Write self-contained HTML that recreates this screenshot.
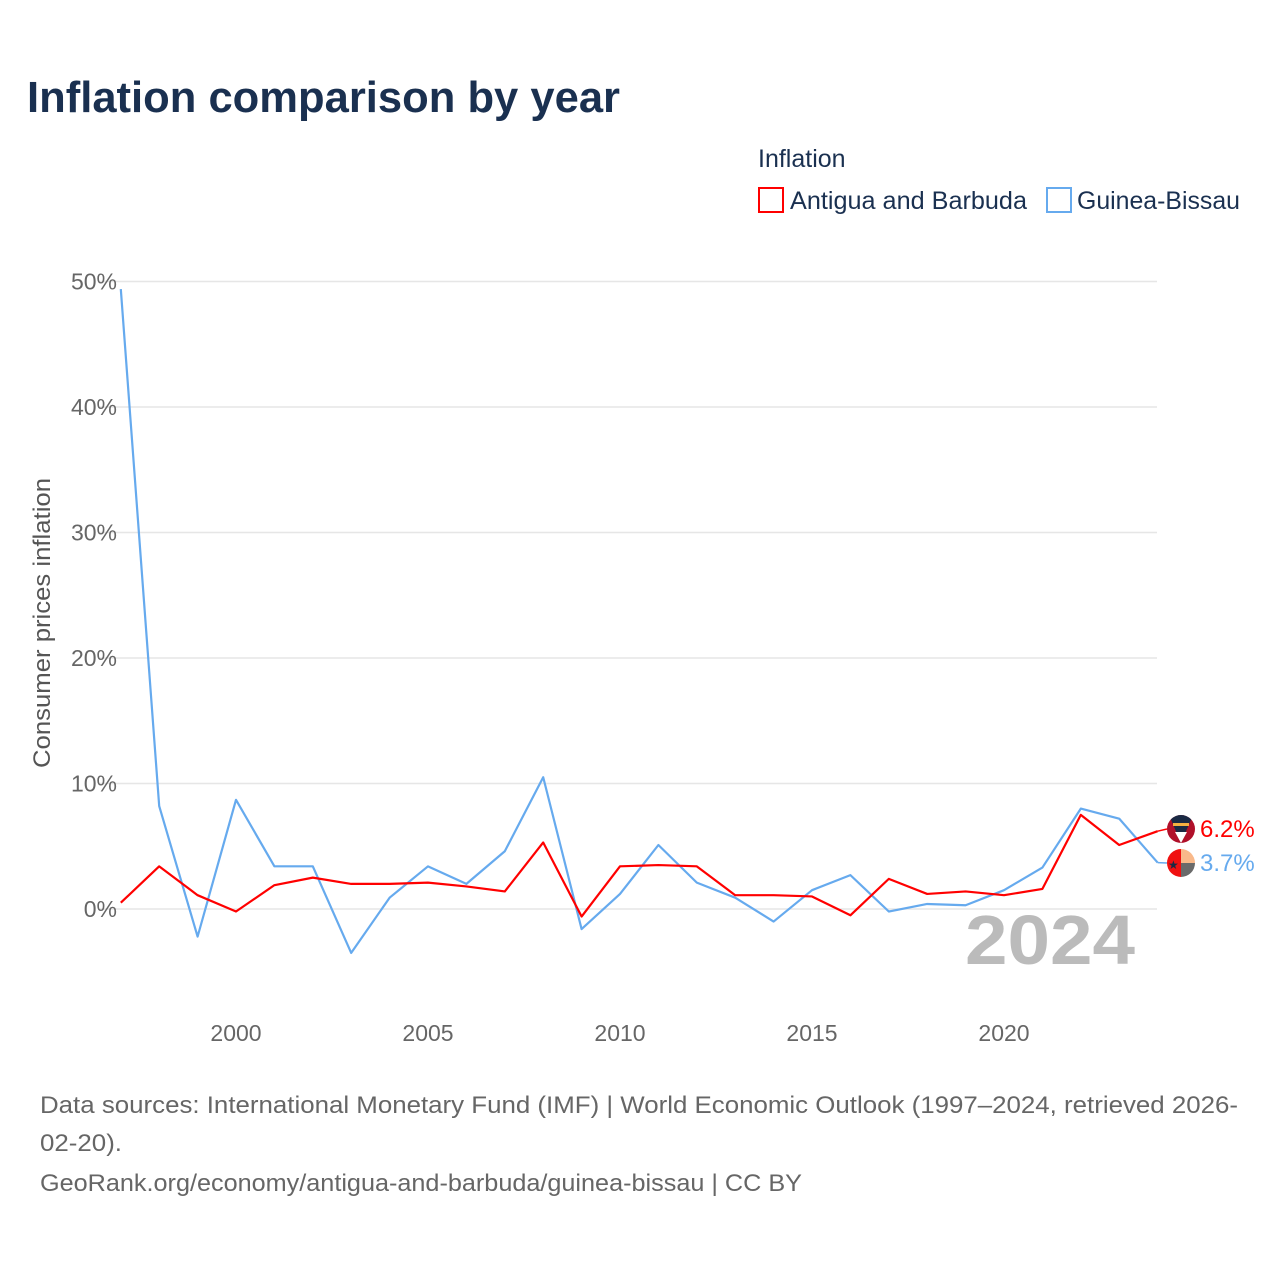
<!DOCTYPE html>
<html><head><meta charset="utf-8">
<style>
html,body{margin:0;padding:0;background:#fff;}
body{width:1280px;height:1280px;position:relative;font-family:"Liberation Sans",sans-serif;overflow:hidden;}
</style></head>
<body>
<svg id="chart" width="1280" height="1280" viewBox="0 0 1280 1280" xmlns="http://www.w3.org/2000/svg">
<text x="27" y="112" font-size="44" font-weight="bold" fill="#1a3050" textLength="593" lengthAdjust="spacingAndGlyphs">Inflation comparison by year</text>
<text x="758" y="167" font-size="25" fill="#1a3050">Inflation</text>
<g>
<rect x="759" y="188" width="24" height="24" fill="none" stroke="#ff0000" stroke-width="2"/>
<text x="790" y="209" font-size="25" fill="#1a3050" textLength="237" lengthAdjust="spacingAndGlyphs">Antigua and Barbuda</text></g>
<g>
<rect x="1047" y="188" width="24" height="24" fill="none" stroke="#66aaee" stroke-width="2"/>
<text x="1077" y="209" font-size="25" fill="#1a3050" textLength="163" lengthAdjust="spacingAndGlyphs">Guinea-Bissau</text></g>
<g id="grid"></g>
<g id="yticks"></g>
<g id="xticks"></g>
<text transform="translate(50,623) rotate(-90)" text-anchor="middle" font-size="24" fill="#555" textLength="290" lengthAdjust="spacingAndGlyphs">Consumer prices inflation</text>
<text x="1135" y="964" text-anchor="end" font-size="70" font-weight="bold" fill="#bbbbbb" textLength="170" lengthAdjust="spacingAndGlyphs">2024</text>
<g id="series"></g>
<g>
<clipPath id="c1"><circle cx="1181" cy="829" r="14"/></clipPath>
<g clip-path="url(#c1)"><rect x="1167" y="815" width="28" height="28" fill="#b0102a"/>
<polygon points="1169,815 1193,815 1181,843" fill="#1a2a44"/>
<polygon points="1175,832 1187,832 1181,843" fill="#fff"/>
<rect x="1173" y="823" width="16" height="3" fill="#f5b041"/></g></g>
<g>
<clipPath id="c2"><circle cx="1181" cy="863" r="14"/></clipPath>
<g clip-path="url(#c2)"><rect x="1167" y="849" width="14" height="28" fill="#f01010"/>
<rect x="1181" y="849" width="14" height="14" fill="#f9b98a"/>
<rect x="1181" y="863" width="14" height="14" fill="#6a6a6a"/>
<text x="1168" y="869" font-size="12" fill="#1a2a44">★</text></g></g>
<text x="1200" y="837" font-size="24" fill="#ff0000">6.2%</text>
<text x="1200" y="871" font-size="24" fill="#66aaee">3.7%</text>
<text x="40" y="1113" font-size="24" fill="#666" textLength="1198" lengthAdjust="spacingAndGlyphs">Data sources: International Monetary Fund (IMF) | World Economic Outlook (1997–2024, retrieved 2026-</text>
<text x="40" y="1151" font-size="24" fill="#666" textLength="82" lengthAdjust="spacingAndGlyphs">02-20).</text>
<text x="40" y="1191" font-size="24" fill="#666" textLength="762" lengthAdjust="spacingAndGlyphs">GeoRank.org/economy/antigua-and-barbuda/guinea-bissau | CC BY</text>
</svg>
<script>
const years = [1997,1998,1999,2000,2001,2002,2003,2004,2005,2006,2007,2008,2009,2010,2011,2012,2013,2014,2015,2016,2017,2018,2019,2020,2021,2022,2023,2024];
const antigua = [0.5,3.4,1.1,-0.2,1.9,2.5,2.0,2.0,2.1,1.8,1.4,5.3,-0.6,3.4,3.5,3.4,1.1,1.1,1.0,-0.5,2.4,1.2,1.4,1.1,1.6,7.5,5.1,6.2];
const guinea = [49.4,8.2,-2.2,8.7,3.4,3.4,-3.5,0.9,3.4,2.0,4.6,10.5,-1.6,1.2,5.1,2.1,0.9,-1.0,1.5,2.7,-0.2,0.4,0.3,1.5,3.3,8.0,7.2,3.7];
const yTicks = [0,10,20,30,40,50];
const xTicks = [2000,2005,2010,2015,2020];
const NS = "http://www.w3.org/2000/svg";
const xS = y => 120.8 + (y - 1997) * 38.4;
const yS = v => 909 - v * 12.55;
function mk(tag, attrs, parent){const e=document.createElementNS(NS,tag);for(const k in attrs)e.setAttribute(k,attrs[k]);parent.appendChild(e);return e;}
const grid=document.getElementById('grid'), yt=document.getElementById('yticks'), xt=document.getElementById('xticks'), ser=document.getElementById('series');
yTicks.forEach(t=>{
  const l=mk('line',{x1:100,x2:1157,y1:yS(t),y2:yS(t),stroke:'#e6e6e6','stroke-width':1.5},grid);
  
  
  const tx=mk('text',{x:117,y:yS(t)+8,'text-anchor':'end','font-size':23,fill:'#666'},yt);
  tx.textContent=t+'%';
  
  
});
xTicks.forEach(t=>{
  const tx=mk('text',{x:xS(t),y:1041,'text-anchor':'middle','font-size':23,fill:'#666'},xt);
  tx.textContent=t;
  
  
});
function line(vals,color,name){
  const pts=vals.map((v,i)=>xS(years[i])+','+yS(v)).join(' ');
  const p=mk('polyline',{points:pts,fill:'none',stroke:color,'stroke-width':2.2,'stroke-linejoin':'round'},ser);
  
  
}
line(guinea,'#66aaee','line-guinea-bissau');
line(antigua,'#ff0000','line-antigua');
const lastA=antigua[antigua.length-1], lastG=guinea[guinea.length-1];
const ca=mk('line',{x1:xS(2024),y1:yS(lastA),x2:1167,y2:829,stroke:'#ff0000','stroke-width':1.5},ser);


const cg=mk('line',{x1:xS(2024),y1:yS(lastG),x2:1167,y2:863,stroke:'#66aaee','stroke-width':1.5},ser);


</script>
</body></html>
